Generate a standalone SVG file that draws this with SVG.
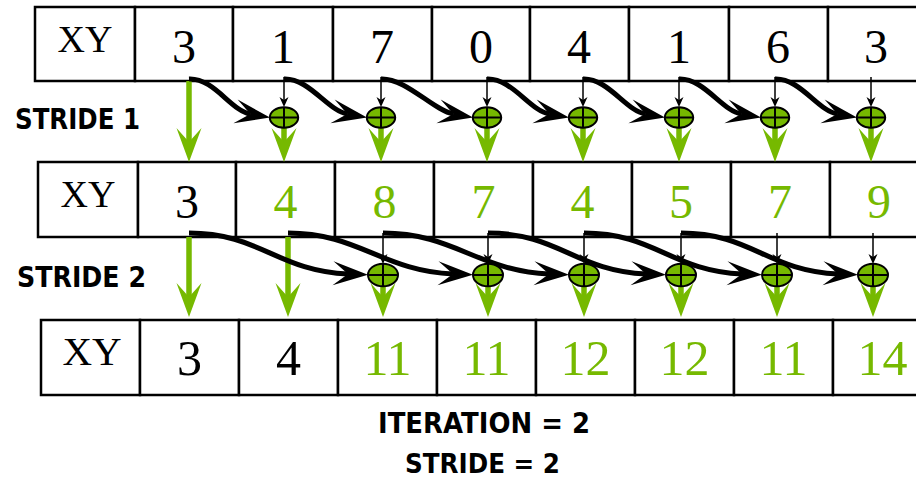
<svg xmlns="http://www.w3.org/2000/svg" width="916" height="480" viewBox="0 0 916 480">
<style>
.cell{fill:#fff;stroke:#000;stroke-width:2.5}
.xy{font-family:"Liberation Serif","Times New Roman",serif;font-size:38px;text-anchor:middle;fill:#000}
.d{font-family:"Liberation Serif","Times New Roman",serif;font-size:48px;text-anchor:middle;fill:#000}
.d3{font-size:50px}
.g{fill:#76b900}
.lbl{font-family:"DejaVu Sans","Liberation Sans",sans-serif;font-weight:bold;font-size:29px;fill:#000}
.curve{fill:none;stroke:#000;stroke-width:5;marker-end:url(#mb)}
.thin{fill:none;stroke:#000;stroke-width:1.5;marker-end:url(#mt)}
.garr{fill:none;stroke:#76b900;stroke-width:5.5;marker-end:url(#mg)}
.add ellipse{fill:#76b900;stroke:#000;stroke-width:2}
.add path{stroke:#000;stroke-width:2;fill:none}
</style>
<defs>
<marker id="mb" viewBox="-16 -13 37 26" markerWidth="37" markerHeight="26" refX="0" refY="0" markerUnits="userSpaceOnUse" orient="auto">
<path d="M20,0 L-15,-12 L0,0 L-15,12 Z" fill="#000"/>
</marker>
<marker id="mg" viewBox="-15 -13 36 26" markerWidth="36" markerHeight="26" refX="0" refY="0" markerUnits="userSpaceOnUse" orient="auto">
<path d="M20,0 L-14,-12.5 L0,0 L-14,12.5 Z" fill="#76b900"/>
</marker>
<marker id="mt" viewBox="-4 -5 12 10" markerWidth="12" markerHeight="10" refX="0" refY="0" markerUnits="userSpaceOnUse" orient="auto">
<path d="M7,0 L-3,-4.5 L0,0 L-3,4.5 Z" fill="#000"/>
</marker>
</defs>

<!-- Row 1 -->
<g id="row1">
<g id="r1c0"><rect class="cell" x="35" y="7" width="100" height="74"/><text class="xy" x="85" y="52">XY</text></g>
<g id="r1c1"><rect class="cell" x="135" y="7" width="98" height="74"/><text class="d" x="184" y="63">3</text></g>
<g id="r1c2"><rect class="cell" x="233" y="7" width="100" height="74"/><text class="d" x="283" y="63">1</text></g>
<g id="r1c3"><rect class="cell" x="333" y="7" width="99" height="74"/><text class="d" x="382" y="63">7</text></g>
<g id="r1c4"><rect class="cell" x="432" y="7" width="98" height="74"/><text class="d" x="481" y="63">0</text></g>
<g id="r1c5"><rect class="cell" x="530" y="7" width="99" height="74"/><text class="d" x="579" y="63">4</text></g>
<g id="r1c6"><rect class="cell" x="629" y="7" width="100" height="74"/><text class="d" x="679" y="63">1</text></g>
<g id="r1c7"><rect class="cell" x="729" y="7" width="99" height="74"/><text class="d" x="778" y="63">6</text></g>
<g id="r1c8"><rect class="cell" x="828" y="7" width="99" height="74"/><text class="d" x="876" y="63">3</text></g>
</g>

<!-- Row 2 -->
<g id="row2">
<g id="r2c0"><rect class="cell" x="38" y="162" width="100" height="75"/><text class="xy" x="88" y="207">XY</text></g>
<g id="r2c1"><rect class="cell" x="138" y="162" width="98" height="75"/><text class="d" x="187" y="218">3</text></g>
<g id="r2c2"><rect class="cell" x="236" y="162" width="99" height="75"/><text class="d g" x="285.5" y="218">4</text></g>
<g id="r2c3"><rect class="cell" x="335" y="162" width="99" height="75"/><text class="d g" x="384.5" y="218">8</text></g>
<g id="r2c4"><rect class="cell" x="434" y="162" width="99" height="75"/><text class="d g" x="483.5" y="218">7</text></g>
<g id="r2c5"><rect class="cell" x="533" y="162" width="99" height="75"/><text class="d g" x="582.5" y="218">4</text></g>
<g id="r2c6"><rect class="cell" x="632" y="162" width="99" height="75"/><text class="d g" x="681" y="218">5</text></g>
<g id="r2c7"><rect class="cell" x="731" y="162" width="99" height="75"/><text class="d g" x="780" y="218">7</text></g>
<g id="r2c8"><rect class="cell" x="830" y="162" width="99" height="75"/><text class="d g" x="879" y="218">9</text></g>
</g>

<!-- Row 3 -->
<g id="row3">
<g id="r3c0"><rect class="cell" x="41" y="320" width="99" height="75"/><text class="xy" x="92" y="365" style="font-size:41px">XY</text></g>
<g id="r3c1"><rect class="cell" x="140" y="320" width="99" height="75"/><text class="d d3" x="189.5" y="375">3</text></g>
<g id="r3c2"><rect class="cell" x="239" y="320" width="99" height="75"/><text class="d d3" x="288.5" y="375">4</text></g>
<g id="r3c3"><rect class="cell" x="338" y="320" width="99" height="75"/><text class="d d3 g" x="387.5" y="375">11</text></g>
<g id="r3c4"><rect class="cell" x="437" y="320" width="99" height="75"/><text class="d d3 g" x="486.5" y="375">11</text></g>
<g id="r3c5"><rect class="cell" x="536" y="320" width="99" height="75"/><text class="d d3 g" x="585.5" y="375">12</text></g>
<g id="r3c6"><rect class="cell" x="635" y="320" width="99" height="75"/><text class="d d3 g" x="684.5" y="375">12</text></g>
<g id="r3c7"><rect class="cell" x="734" y="320" width="99" height="75"/><text class="d d3 g" x="783.5" y="375">11</text></g>
<g id="r3c8"><rect class="cell" x="833" y="320" width="99" height="75"/><text class="d d3 g" x="882.5" y="375">14</text></g>
</g>

<!-- Labels -->
<g id="labels">
<text class="lbl" x="15" y="129" textLength="125" lengthAdjust="spacingAndGlyphs">STRIDE 1</text>
<text class="lbl" x="17" y="287" textLength="129" lengthAdjust="spacingAndGlyphs">STRIDE 2</text>
<text class="lbl" x="378" y="433" textLength="212" lengthAdjust="spacingAndGlyphs" style="font-size:28px">ITERATION = 2</text>
<text class="lbl" x="405" y="473" textLength="155" lengthAdjust="spacingAndGlyphs" style="font-size:27px">STRIDE = 2</text>
</g>

<!-- Connectors -->
<g id="connectors">
<path class="garr" d="M189,81 L189,142"/>
<path class="garr" d="M284,125 L284,142"/>
<path class="garr" d="M381,125 L381,142"/>
<path class="garr" d="M487,125 L487,142"/>
<path class="garr" d="M583,125 L583,142"/>
<path class="garr" d="M679,125 L679,142"/>
<path class="garr" d="M775,125 L775,142"/>
<path class="garr" d="M871,125 L871,142"/>
<path class="thin" d="M284,77 L284,100"/>
<path class="thin" d="M381,77 L381,100"/>
<path class="thin" d="M487,77 L487,100"/>
<path class="thin" d="M583,77 L583,100"/>
<path class="thin" d="M679,77 L679,100"/>
<path class="thin" d="M775,77 L775,100"/>
<path class="thin" d="M871,77 L871,100"/>
<path class="curve" d="M189,79 C214,78 230.6,110.5 250.3,114"/>
<path class="curve" d="M284,79 C309,78 327.6,110.5 347.3,114"/>
<path class="curve" d="M381,79 C406,78 433.6,110.5 453.3,114"/>
<path class="curve" d="M487,79 C512,78 529.6,110.5 549.3,114"/>
<path class="curve" d="M583,79 C608,78 625.6,110.5 645.3,114"/>
<path class="curve" d="M679,79 C704,78 721.6,110.5 741.3,114"/>
<path class="curve" d="M775,79 C800,78 817.6,110.5 837.3,114"/>
<path class="garr" d="M189,237 L189,297"/>
<path class="garr" d="M288,237 L288,297"/>
<path class="garr" d="M383,283 L383,297"/>
<path class="garr" d="M488,283 L488,297"/>
<path class="garr" d="M584,283 L584,297"/>
<path class="garr" d="M681,283 L681,297"/>
<path class="garr" d="M777,283 L777,297"/>
<path class="garr" d="M873,283 L873,297"/>
<path class="thin" d="M383,233 L383,257"/>
<path class="thin" d="M488,233 L488,257"/>
<path class="thin" d="M584,233 L584,257"/>
<path class="thin" d="M681,233 L681,257"/>
<path class="thin" d="M777,233 L777,257"/>
<path class="thin" d="M873,233 L873,257"/>
<path class="curve" d="M189,233 C259,233 278,271 348,274"/>
<path class="curve" d="M288,233 C358,233 383,271 453,274"/>
<path class="curve" d="M383,233 C453,233 479,271 549,274"/>
<path class="curve" d="M488,233 C558,233 576,271 646,274"/>
<path class="curve" d="M584,233 C654,233 672,271 742,274"/>
<path class="curve" d="M681,233 C751,233 768,271 838,274"/>
</g>

<g id="s1a1" class="add"><ellipse cx="284" cy="117.5" rx="14.2" ry="10.3"/><path d="M284,107.2 V127.8 M269.8,117.5 H298.2"/></g>
<g id="s1a2" class="add"><ellipse cx="381" cy="117.5" rx="14.2" ry="10.3"/><path d="M381,107.2 V127.8 M366.8,117.5 H395.2"/></g>
<g id="s1a3" class="add"><ellipse cx="487" cy="117.5" rx="14.2" ry="10.3"/><path d="M487,107.2 V127.8 M472.8,117.5 H501.2"/></g>
<g id="s1a4" class="add"><ellipse cx="583" cy="117.5" rx="14.2" ry="10.3"/><path d="M583,107.2 V127.8 M568.8,117.5 H597.2"/></g>
<g id="s1a5" class="add"><ellipse cx="679" cy="117.5" rx="14.2" ry="10.3"/><path d="M679,107.2 V127.8 M664.8,117.5 H693.2"/></g>
<g id="s1a6" class="add"><ellipse cx="775" cy="117.5" rx="14.2" ry="10.3"/><path d="M775,107.2 V127.8 M760.8,117.5 H789.2"/></g>
<g id="s1a7" class="add"><ellipse cx="871" cy="117.5" rx="14.2" ry="10.3"/><path d="M871,107.2 V127.8 M856.8,117.5 H885.2"/></g>

<g id="s2a1" class="add"><ellipse cx="383" cy="275" rx="15" ry="11.3"/><path d="M383,263.7 V286.3 M368,275 H398"/></g>
<g id="s2a2" class="add"><ellipse cx="488" cy="275" rx="15" ry="11.3"/><path d="M488,263.7 V286.3 M473,275 H503"/></g>
<g id="s2a3" class="add"><ellipse cx="584" cy="275" rx="15" ry="11.3"/><path d="M584,263.7 V286.3 M569,275 H599"/></g>
<g id="s2a4" class="add"><ellipse cx="681" cy="275" rx="15" ry="11.3"/><path d="M681,263.7 V286.3 M666,275 H696"/></g>
<g id="s2a5" class="add"><ellipse cx="777" cy="275" rx="15" ry="11.3"/><path d="M777,263.7 V286.3 M762,275 H792"/></g>
<g id="s2a6" class="add"><ellipse cx="873" cy="275" rx="15" ry="11.3"/><path d="M873,263.7 V286.3 M858,275 H888"/></g>
</svg>
